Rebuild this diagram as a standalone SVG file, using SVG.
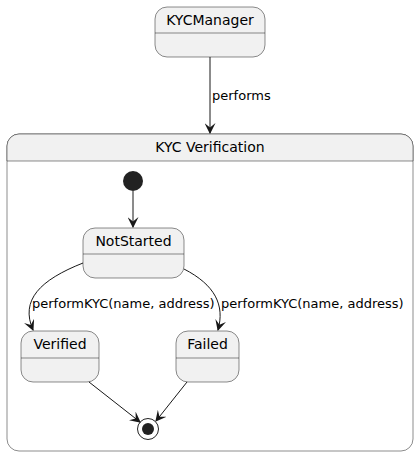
<svg xmlns="http://www.w3.org/2000/svg" width="419" height="455" viewBox="0 0 419 455">
<style>
.st{fill:#F1F1F1;stroke:#181818;stroke-width:0.5}
.dv{stroke:#181818;stroke-width:0.5}
.nm{font-family:"DejaVu Sans",sans-serif;font-size:14px;fill:#000;text-anchor:middle}
.lb{font-family:"DejaVu Sans",sans-serif;font-size:13px;fill:#000}
.ed{fill:none;stroke:#181818;stroke-width:1}
</style>
<defs>
<marker id="ah" viewBox="0 0 10 10" refX="9" refY="5" markerWidth="11" markerHeight="11" markerUnits="userSpaceOnUse" orient="auto">
<path d="M0,0 L10,5 L0,10 L4,5 Z" fill="#181818"/>
</marker>
</defs>
<rect width="419" height="455" fill="#fff"/>
<g id="kyc-verification">
<rect x="7" y="134" width="406" height="317" rx="12" fill="#fff" stroke="#181818" stroke-width="0.5"/>
<path d="M7,161 L7,146 A12,12 0 0 1 19,134 L401,134 A12,12 0 0 1 413,146 L413,161 Z" class="st"/>
<text class="nm" x="210" y="152">KYC Verification</text>
</g>
<g id="KYCManager">
<rect class="st" x="155" y="7" width="110" height="50" rx="12"/>
<line class="dv" x1="155" y1="33" x2="265" y2="33"/>
<text class="nm" x="210" y="25">KYCManager</text>
</g>
<g id="start">
<circle cx="133" cy="181" r="10" fill="#222"/>
</g>
<g id="NotStarted">
<rect class="st" x="83" y="228" width="101" height="50" rx="12"/>
<line class="dv" x1="83" y1="254" x2="184" y2="254"/>
<text class="nm" x="133.5" y="246">NotStarted</text>
</g>
<g id="Verified">
<rect class="st" x="21" y="331" width="78" height="51" rx="12"/>
<line class="dv" x1="21" y1="358" x2="99" y2="358"/>
<text class="nm" x="60" y="349">Verified</text>
</g>
<g id="Failed">
<rect class="st" x="176" y="331" width="63" height="51" rx="12"/>
<line class="dv" x1="176" y1="358" x2="239" y2="358"/>
<text class="nm" x="207.5" y="349">Failed</text>
</g>
<g id="end">
<circle cx="148" cy="429" r="10.5" fill="none" stroke="#222" stroke-width="1"/>
<circle cx="148" cy="429" r="6" fill="#222"/>
</g>
<g id="connectors">
<path class="ed" d="M210,57 L210,133" marker-end="url(#ah)"/>
<text class="lb" x="212" y="100">performs</text>
<path class="ed" d="M133,191 L133,227" marker-end="url(#ah)"/>
<path class="ed" d="M83,263 C40,280 20,300 33,330" marker-end="url(#ah)"/>
<text class="lb" x="32" y="308">performKYC(name, address)</text>
<path class="ed" d="M184,269 C215,285 225,305 218,330" marker-end="url(#ah)"/>
<text class="lb" x="221" y="308">performKYC(name, address)</text>
<path class="ed" d="M89,382 L140,422" marker-end="url(#ah)"/>
<path class="ed" d="M187,382 L156,421" marker-end="url(#ah)"/>
</g>
</svg>
